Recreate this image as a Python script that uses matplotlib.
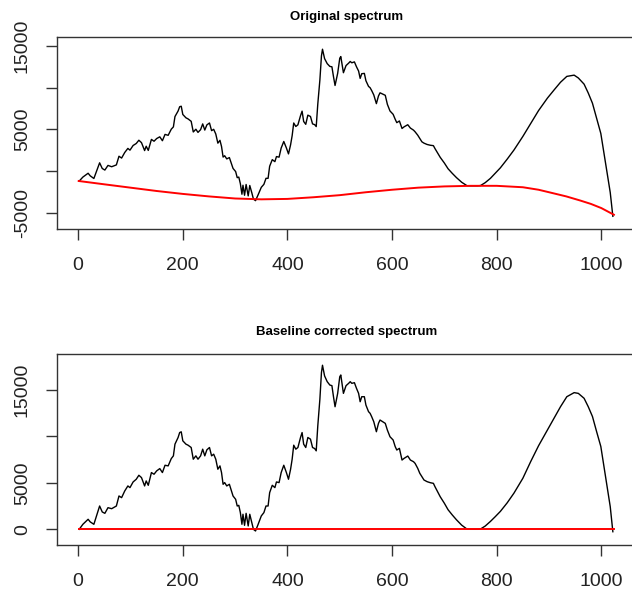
import matplotlib
matplotlib.use("Agg")
import matplotlib.pyplot as plt

plt.rcParams['font.family'] = ['Liberation Sans', 'DejaVu Sans']

# ---- sample positions (shared by both spectra) ----
idx = [2, 9, 19, 23, 30, 35, 41, 46, 51, 57, 64, 73, 78, 83, 89, 95, 99, 105, 111, 116,
       121, 127, 130, 134, 140, 145, 150, 156, 161, 166, 172, 178, 182, 185, 191, 194, 197,
       200, 206, 210, 216, 220, 225, 229, 234, 238, 242, 246, 251, 255, 259, 263, 267, 271,
       274, 277, 280, 284, 289, 293, 296, 301, 304, 307, 310, 313, 315, 318, 321, 325, 328,
       332, 335, 339, 344, 350, 355, 359, 363, 366, 371, 376, 379, 384, 388, 393, 398, 402,
       406, 409, 412, 416, 420, 425, 428, 431, 435, 439, 444, 448, 452, 455, 458, 462, 465,
       467, 471, 476, 481, 485, 488, 491, 496, 500, 502, 506, 507, 512, 517, 520, 523, 528,
       532, 536, 539, 542, 547, 550, 555, 558, 561, 565, 570, 574, 577, 582, 587, 591, 596,
       602, 606, 609, 614, 619, 623, 630, 635, 641, 644, 649, 653, 657, 661, 667, 673, 679,
       682, 687, 692, 700, 707, 715, 723, 733, 743, 750, 756, 763, 769, 778, 788, 797, 807,
       820, 833, 850, 865, 880, 897, 910, 922, 934, 948, 956, 967, 975, 983, 991, 999, 1004,
       1010, 1017, 1022]

# ---- Original spectrum (top panel) ----
orig_val = [-1210, -730, -270, -580, -900, -40, 980, 300, 110, 670, 510, 730, 1770, 1550, 2220,
            2710, 2500, 3060, 3300, 3690, 3400, 2450, 2970, 2470, 3790, 3570, 3890, 4100, 3630,
            4390, 4280, 5020, 5290, 6530, 7200, 7710, 7770, 6780, 6380, 6250, 5960, 4680, 5010,
            4630, 4960, 5650, 4910, 5530, 5760, 4840, 5000, 4440, 3340, 3680, 2940, 1670, 1830,
            1450, 1610, 870, 310, -70, -800, -730, -1520, -2790, -1710, -2910, -1620, -2990,
            -1740, -2640, -3370, -3560, -2850, -1960, -1600, -880, -880, 570, 1360, 1120, 1730,
            1660, 2750, 3540, 2760, 2050, 3140, 4240, 5760, 5340, 5540, 6640, 7180, 5940, 5600,
            6700, 6540, 5650, 5560, 5330, 8030, 10920, 13810, 14610, 13480, 12880, 12550, 12500,
            11320, 10260, 11720, 13530, 13730, 12140, 11790, 12650, 12940, 13140, 12980, 13090,
            12500, 11990, 11110, 11670, 11710, 10830, 10150, 9990, 9650, 9130, 8080, 9000, 9380,
            9230, 9080, 8000, 7200, 6800, 6200, 5800, 6000, 5100, 5300, 5550, 5150, 4900, 4700,
            4300, 3900, 3500, 3340, 3180, 3090, 3040, 2690, 2160, 1640, 950, 270, -280, -790,
            -1350, -1760, -1780, -1780, -1780, -1750, -1400, -880, -280, 380, 1420, 2520, 4150,
            5700, 7250, 8750, 9750, 10650, 11350, 11500, 11160, 10420, 9350, 8130, 6290, 4500,
            2520, 200, -2580, -5440]

# ---- Fitted baseline (red, top panel) ----
base_idx = [1, 50, 100, 150, 200, 250, 300, 350, 400, 450, 500, 550, 600, 650, 700, 750, 800,
            850, 880, 900, 933, 960, 980, 1000, 1024]
base_val = [-1200, -1600, -2000, -2400, -2750, -3050, -3300, -3400, -3350, -3150, -2900, -2550,
            -2250, -2000, -1850, -1780, -1780, -1950, -2250, -2550, -3050, -3550, -3950, -4450,
            -5250]

# ---- Baseline corrected spectrum (bottom panel) ----
corr_val = [0, 540, 1080, 800, 540, 1440, 2510, 1870, 1720, 2330, 2220, 2510, 3590, 3410, 4130,
            4670, 4490, 5100, 5390, 5820, 5570, 4670, 5210, 4740, 6110, 5930, 6290, 6540, 6110,
            6900, 6830, 7620, 7910, 9170, 9890, 10420, 10500, 9530, 9170, 9060, 8810, 7550, 7910,
            7550, 7910, 8630, 7910, 8560, 8810, 7910, 8090, 7550, 6470, 6830, 6110, 4850, 5030,
            4670, 4850, 4130, 3590, 3230, 2510, 2580, 1800, 540, 1620, 430, 1720, 360, 1620, 720,
            0, -180, 540, 1440, 1800, 2510, 2510, 3950, 4740, 4490, 5100, 5030, 6110, 6900, 6110,
            5390, 6470, 7550, 9060, 8630, 8810, 9890, 10420, 9170, 8810, 9890, 9710, 8810, 8700,
            8450, 11140, 14010, 16880, 17670, 16520, 15900, 15540, 15470, 14280, 13200, 14640,
            16430, 16620, 15000, 14640, 15470, 15720, 15900, 15720, 15790, 15180, 14640, 13740,
            14280, 14280, 13380, 12670, 12490, 12130, 11590, 10510, 11410, 11770, 11590, 11410,
            10690, 9970, 9620, 8900, 8540, 8720, 7460, 7640, 7890, 7460, 7280, 7100, 6570, 6030,
            5670, 5310, 5130, 5020, 4950, 4590, 4050, 3510, 2800, 2110, 1550, 1030, 450, 30, 0, 0,
            0, 30, 350, 850, 1350, 1930, 2850, 3900, 5500, 7300, 9000, 10700, 12000, 13210, 14280,
            14720, 14640, 14110, 13200, 12150, 10510, 8920, 7100, 4980, 2440, -260]

zero_idx = [1, 1024]
zero_val = [0, 0]

titles = ["Original spectrum", "Baseline corrected spectrum"]
title_pads = [12.5, 13.5]
xticks = [0, 200, 400, 600, 800, 1000]
top_yticks = [-5000, 0, 5000, 10000, 15000]
top_ylabels = ["-5000", "", "5000", "", "15000"]
bot_yticks = [0, 5000, 10000, 15000]
bot_ylabels = ["0", "5000", "", "15000"]

fig = plt.figure(figsize=(6.32, 5.96), dpi=100)
W, H = 632.0, 596.0
ax1 = fig.add_axes([57.3 / W, 1 - 229 / H, 578 / W, (229 - 37.3) / H])
ax2 = fig.add_axes([57.3 / W, 1 - 545 / H, 578 / W, (545 - 354) / H])

ax1.plot(idx, orig_val, color='black', lw=1.0)
ax1.plot(base_idx, base_val, color='red', lw=1.4)
ax1.set_ylim(-6960, 16040)
ax1.set_yticks(top_yticks)
ax1.set_yticklabels(top_ylabels)

ax2.plot(idx, corr_val, color='black', lw=1.0)
ax2.plot(zero_idx, zero_val, color='red', lw=1.4)
ax2.set_ylim(-1690, 18880)
ax2.set_yticks(bot_yticks)
ax2.set_yticklabels(bot_ylabels)

for ax, t, tp in zip([ax1, ax2], titles, title_pads):
    ax.set_xlim(-39.9, 1064.9)
    ax.set_xticks(xticks)
    ax.set_xticklabels([str(v) for v in xticks])
    for s in ax.spines.values():
        s.set_color('#333333')
        s.set_linewidth(1.0)
    ax.tick_params(axis='x', length=8, width=1, color='#333333', labelsize=14, pad=12.5,
                   labelcolor='#222222')
    ax.tick_params(axis='y', length=8, width=1, color='#333333', labelsize=14, pad=11,
                   labelcolor='#222222')
    for lab in ax.get_yticklabels():
        lab.set_rotation(90)
        lab.set_va('center')
    ax.set_title(t, fontsize=9.5, fontweight='bold', pad=tp)

fig.savefig("out.png", dpi=100)
